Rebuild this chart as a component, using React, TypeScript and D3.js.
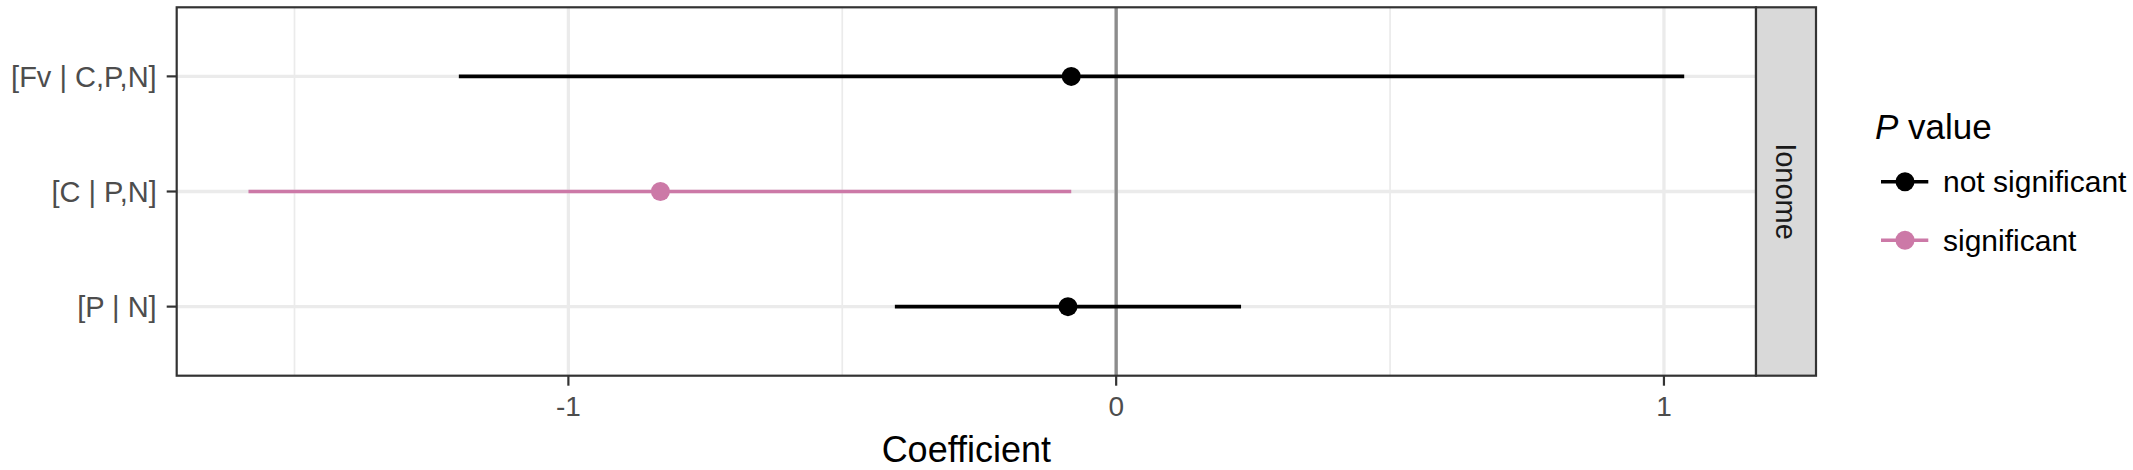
import React from "react";
import * as d3 from "d3";

const categories = ["[Fv | C,P,N]", "[C | P,N]", "[P | N]"];
const estimates = [-0.082, -0.832, -0.088];
const lower = [-1.2, -1.584, -0.404];
const upper = [1.037, -0.082, 0.228];
const significance = ["not significant", "significant", "not significant"];
const xTicks = [-1, 0, 1];
const xMinor = [-1.5, -0.5, 0.5];
const legendLevels = ["not significant", "significant"];
const legendColors = ["#000000", "#CC79A7"];
const stripLabel = "Ionome";

const W = 2133;
const H = 470;
const panel = { left: 176.7, right: 1756, top: 7.3, bottom: 375.7 };
const FONT = "'Liberation Sans', Arial, Helvetica, sans-serif";

export default function App() {
  const lo = d3.min(lower) as number;
  const hi = d3.max(upper) as number;
  const pad = (hi - lo) * 0.05;
  const x = d3.scaleLinear().domain([lo - pad, hi + pad]).range([panel.left, panel.right]);
  const y = d3
    .scalePoint<string>()
    .domain(categories)
    .range([panel.top, panel.bottom])
    .padding(0.6);
  const color = d3.scaleOrdinal<string, string>().domain(legendLevels).range(legendColors);

  const stripX0 = panel.right;
  const stripX1 = 1816;

  return (
    <svg
      width={W}
      height={H}
      style={{ position: "absolute", left: 0, top: 0, background: "#fff" }}
      fontFamily={FONT}
    >
      <rect x={0} y={0} width={W} height={H} fill="#fff" />
      {/* panel background */}
      <rect
        x={panel.left}
        y={panel.top}
        width={panel.right - panel.left}
        height={panel.bottom - panel.top}
        fill="#fff"
      />
      {/* minor grid */}
      {xMinor.map((v) => (
        <line
          key={"mn" + v}
          x1={x(v)}
          x2={x(v)}
          y1={panel.top}
          y2={panel.bottom}
          stroke="#EBEBEB"
          strokeWidth={1.7}
        />
      ))}
      {/* major grid */}
      {xTicks.map((v) => (
        <line
          key={"mj" + v}
          x1={x(v)}
          x2={x(v)}
          y1={panel.top}
          y2={panel.bottom}
          stroke="#EBEBEB"
          strokeWidth={3.3}
        />
      ))}
      {categories.map((c) => (
        <line
          key={"hg" + c}
          x1={panel.left}
          x2={panel.right}
          y1={y(c)}
          y2={y(c)}
          stroke="#EBEBEB"
          strokeWidth={3.3}
        />
      ))}
      {/* zero line */}
      <line
        x1={x(0)}
        x2={x(0)}
        y1={panel.top}
        y2={panel.bottom}
        stroke="#8C8C8C"
        strokeWidth={3.3}
      />
      {/* intervals */}
      {categories.map((c, i) => (
        <g key={"pt" + c}>
          <line
            x1={x(lower[i])}
            x2={x(upper[i])}
            y1={y(c)}
            y2={y(c)}
            stroke={color(significance[i])}
            strokeWidth={3.6}
          />
          <circle cx={x(estimates[i])} cy={y(c)} r={9.5} fill={color(significance[i])} />
        </g>
      ))}
      {/* panel border */}
      <rect
        x={panel.left}
        y={panel.top}
        width={panel.right - panel.left}
        height={panel.bottom - panel.top}
        fill="none"
        stroke="#333333"
        strokeWidth={2.2}
      />
      {/* strip */}
      <rect
        x={stripX0}
        y={panel.top}
        width={stripX1 - stripX0}
        height={panel.bottom - panel.top}
        fill="#D9D9D9"
        stroke="#333333"
        strokeWidth={2.2}
      />
      <text
        transform={`translate(${(stripX0 + stripX1) / 2},${(panel.top + panel.bottom) / 2}) rotate(90)`}
        textAnchor="middle"
        dominantBaseline="central"
        fontSize={29}
        fill="#1A1A1A"
      >
        {stripLabel}
      </text>
      {/* y axis */}
      {categories.map((c) => (
        <g key={"ya" + c}>
          <line
            x1={panel.left - 10}
            x2={panel.left}
            y1={y(c)}
            y2={y(c)}
            stroke="#333333"
            strokeWidth={2.2}
          />
          <text
            x={panel.left - 20}
            y={(y(c) as number) + 10.5}
            textAnchor="end"
            fontSize={29}
            fill="#4D4D4D"
          >
            {c}
          </text>
        </g>
      ))}
      {/* x axis */}
      {xTicks.map((v) => (
        <g key={"xa" + v}>
          <line
            x1={x(v)}
            x2={x(v)}
            y1={panel.bottom}
            y2={panel.bottom + 10}
            stroke="#333333"
            strokeWidth={2.2}
          />
          <text x={x(v)} y={416} textAnchor="middle" fontSize={28} fill="#4D4D4D">
            {d3.format("d")(v).replace("−", "-")}
          </text>
        </g>
      ))}
      <text
        x={(panel.left + panel.right) / 2}
        y={462.3}
        textAnchor="middle"
        fontSize={36}
        fill="#000"
      >
        Coefficient
      </text>
      {/* legend */}
      <text x={1875} y={139.3} fontSize={35} fill="#000">
        <tspan fontStyle="italic">P</tspan>
        <tspan> value</tspan>
      </text>
      {legendLevels.map((lv, i) => {
        const ky = 181.7 + i * 58.5;
        return (
          <g key={"lg" + lv}>
            <line x1={1881} x2={1928.3} y1={ky} y2={ky} stroke={color(lv)} strokeWidth={3.6} />
            <circle cx={1905} cy={ky} r={9.5} fill={color(lv)} />
            <text x={1943} y={ky + 10.5} fontSize={30} fill="#000">
              {lv}
            </text>
          </g>
        );
      })}
    </svg>
  );
}
